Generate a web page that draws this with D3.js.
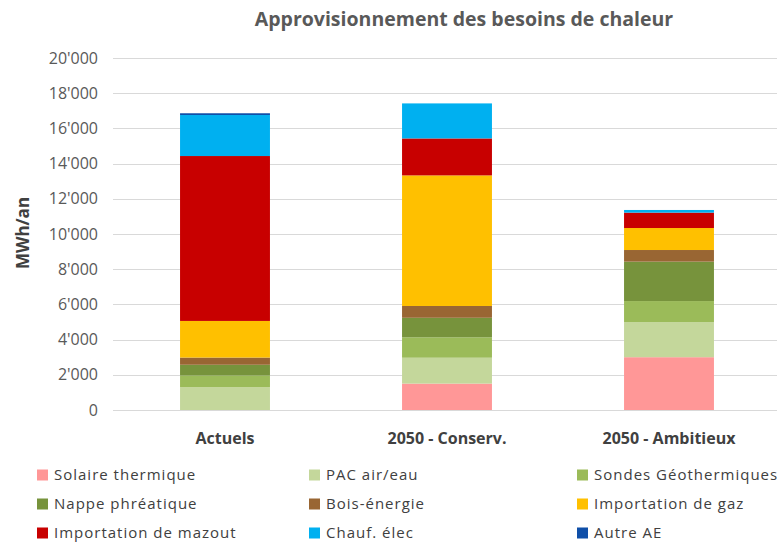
<!DOCTYPE html>
<html>
<head>
<meta charset="utf-8">
<script src="https://cdn.jsdelivr.net/npm/d3@7"></script>
<style>
  body { margin: 0; background: #fff; }
  text { font-family: "Open Sans", Lato, sans-serif; }
</style>
</head>
<body>
<div id="chart"></div>
<script>
// Données (MWh/an)
const categories = ["Actuels", "2050 - Conserv.", "2050 - Ambitieux"];
const seriesNames = ["Solaire thermique", "PAC air/eau", "Sondes Géothermiques",
  "Nappe phréatique", "Bois-énergie", "Importation de gaz",
  "Importation de mazout", "Chauf. élec", "Autre AE"];
const solaire  = [0, 1500, 3000];
const pac      = [1300, 1470, 1990];
const sondes   = [660, 1160, 1200];
const nappe    = [610, 1110, 2240];
const bois     = [410, 670, 660];
const gaz      = [2080, 7420, 1250];
const mazout   = [9370, 2100, 875];
const chaufElec = [2330, 1990, 150];
const autreAE  = [100, 0, 0];
const yTicks = [0, 2000, 4000, 6000, 8000, 10000, 12000, 14000, 16000, 18000, 20000];
const colors = ["#FF9797", "#C4D79B", "#9BBB59", "#77933C", "#996633",
  "#FFC000", "#C80000", "#00B0F0", "#0F4FA8"];

const width = 777, height = 543;
const allSeries = [solaire, pac, sondes, nappe, bois, gaz, mazout, chaufElec, autreAE];

// table pour d3.stack
const table = categories.map((c, i) => {
  const row = { cat: c };
  seriesNames.forEach((s, k) => row[s] = allSeries[k][i]);
  return row;
});

const svg = d3.select("#chart").append("svg")
  .attr("width", width)
  .attr("height", height);

const x = d3.scaleBand()
  .domain(categories)
  .range([114, 780])
  .paddingInner(0.595)
  .paddingOuter(0.2975);

const y = d3.scaleLinear()
  .domain([0, 20000])
  .range([410, 58]);

// grille
svg.selectAll("line.grid")
  .data(yTicks)
  .enter()
    .append("line")
    .attr("x1", 113).attr("x2", 777)
    .attr("y1", d => Math.round(y(d)) + 0.5)
    .attr("y2", d => Math.round(y(d)) + 0.5)
    .attr("stroke", "#D9D9D9")
    .attr("stroke-width", 1);

// étiquettes de l'axe y
const fmt = d => d3.format(",")(d).replace(/,/g, "'");
svg.selectAll("text.ytick")
  .data(yTicks)
  .enter()
    .append("text")
    .attr("x", 98)
    .attr("y", d => y(d))
    .attr("dy", "0.35em")
    .attr("text-anchor", "end")
    .attr("font-size", 16)
    .attr("fill", "#595959")
    .text(fmt);

const stack = d3.stack().keys(seriesNames);
const layers = stack(table);

svg.selectAll("g.layer")
  .data(layers)
  .enter()
    .append("g")
    .attr("fill", (d, i) => colors[i])
    .selectAll("rect")
    .data(d => d.map(v => ({ v, cat: v.data.cat })))
    .enter()
      .append("rect")
      .attr("x", d => x(d.cat))
      .attr("width", x.bandwidth())
      .attr("y", d => y(d.v[1]))
      .attr("height", d => y(d.v[0]) - y(d.v[1]));

// étiquettes des catégories
svg.selectAll("text.cat")
  .data(categories)
  .enter()
    .append("text")
    .attr("x", d => x(d) + x.bandwidth() / 2)
    .attr("y", 438)
    .attr("dy", "0.35em")
    .attr("text-anchor", "middle")
    .attr("font-size", 16)
    .attr("font-weight", "bold")
    .attr("fill", "#404040")
    .text(d => d);

// titre
svg.append("text")
  .attr("x", 464)
  .attr("y", 19)
  .attr("dy", "0.35em")
  .attr("text-anchor", "middle")
  .attr("font-size", 19.5)
  .attr("font-weight", "bold")
  .attr("fill", "#595959")
  .text("Approvisionnement des besoins de chaleur");

// titre de l'axe y
svg.append("text")
  .attr("transform", "translate(23,233) rotate(-90)")
  .attr("dy", "0.35em")
  .attr("text-anchor", "middle")
  .attr("font-size", 17)
  .attr("font-weight", "bold")
  .attr("fill", "#404040")
  .text("MWh/an");

// légende
const legendX = [37, 309, 577];
const legendY = [475, 504, 533];
const legend = svg.selectAll("g.legend")
  .data(seriesNames)
  .enter()
    .append("g")
    .attr("transform", (d, i) => `translate(${legendX[i % 3]},${legendY[Math.floor(i / 3)]})`);

legend.append("rect")
  .attr("x", 0).attr("y", -5.5)
  .attr("width", 11).attr("height", 11)
  .attr("fill", (d, i) => colors[i]);

legend.append("text")
  .attr("x", 17)
  .attr("dy", "0.35em")
  .attr("font-size", 15)
  .attr("letter-spacing", 1)
  .attr("fill", "#404040")
  .text(d => d);
</script>
</body>
</html>
